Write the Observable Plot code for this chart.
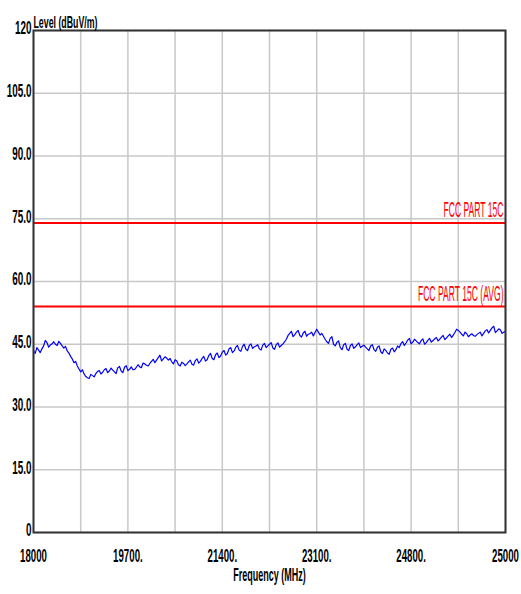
<!DOCTYPE html>
<html><head><meta charset="utf-8">
<script src="https://cdn.jsdelivr.net/npm/d3@7"></script>
<script src="https://cdn.jsdelivr.net/npm/@observablehq/plot@0.6"></script>
<style>
html,body{margin:0;padding:0;background:#fff;}
</style></head><body><div id="chart"></div>
<script>
// Sweep: 18000 MHz to 25000 MHz, one reading every 25 MHz
const sweepStart = 18000;
const sweepStep = 25;
const levels = [
  43.5, 42.8, 44.2, 43.6, 43.0, 43.9, 44.6, 45.9, 45.4, 44.3, 44.8, 45.1, 45.6, 45.0, 44.7, 45.7, 45.2, 44.6, 44.1, 44.5,
  43.4, 42.9, 42.1, 41.5, 40.6, 40.9, 39.8, 39.1, 38.4, 38.9, 37.9, 37.3, 37.0, 36.8, 37.8, 37.5, 37.2, 38.0, 38.5, 38.7,
  37.9, 38.3, 38.9, 39.2, 38.2, 38.6, 39.3, 38.8, 38.4, 38.0, 39.4, 39.7, 38.6, 38.2, 39.5, 39.9, 38.7, 39.0, 39.6, 38.9,
  39.0, 39.5, 40.1, 39.6, 39.4, 40.5, 40.3, 40.0, 39.8, 40.4, 40.9, 41.4, 40.6, 41.2, 41.8, 42.4, 41.0, 41.5, 42.0, 41.7,
  41.2, 41.6, 40.8, 40.3, 41.3, 41.0, 40.1, 39.8, 40.7, 40.4, 39.9, 40.3, 40.8, 41.2, 40.2, 40.0, 41.1, 41.5, 40.5, 40.9,
  41.6, 42.1, 41.0, 41.3, 42.3, 42.8, 41.6, 41.3, 42.5, 42.9, 41.8, 42.2, 43.1, 43.5, 42.4, 42.8, 43.9, 44.2, 43.0, 43.4,
  44.3, 44.7, 43.6, 43.3, 44.5, 45.0, 43.8, 43.5, 44.7, 45.1, 44.0, 44.4, 44.6, 44.9, 43.9, 43.6, 44.8, 45.2, 44.2, 44.6,
  45.0, 45.4, 44.1, 43.8, 44.9, 45.3, 44.3, 44.7, 45.1, 45.6, 46.2, 47.1, 47.6, 48.1, 46.8, 47.3, 47.9, 48.3, 47.1, 46.7,
  47.7, 48.1, 46.9, 47.4, 47.5, 47.9, 47.0, 47.8, 48.6, 47.9, 47.2, 47.6, 46.9, 46.2, 45.6, 45.2, 46.4, 46.8, 45.0, 44.6,
  45.5, 45.8, 44.2, 43.7, 44.9, 45.2, 43.8, 43.5, 44.7, 45.1, 44.0, 44.4, 44.9, 45.3, 44.2, 44.5, 44.8, 44.3, 43.9, 43.5,
  44.6, 44.9, 43.7, 43.3, 44.3, 44.6, 43.2, 42.8, 43.9, 43.5, 42.9, 42.6, 43.8, 44.1, 43.2, 43.7, 44.6, 44.2, 45.2, 45.6,
  44.7, 45.3, 46.0, 46.4, 45.1, 45.5, 46.2, 45.8, 45.4, 45.1, 45.9, 46.3, 45.0, 45.4, 46.0, 46.4, 45.5, 45.9, 46.3, 46.6,
  45.8, 46.2, 46.7, 47.1, 46.1, 46.5, 47.0, 47.4, 46.6, 47.2, 47.8, 48.6, 48.3, 47.9, 47.4, 47.0, 47.9, 47.5, 46.8, 47.2,
  47.5, 47.1, 46.9, 47.3, 47.6, 47.9, 47.0, 47.6, 48.2, 48.5, 47.7, 48.3, 48.9, 49.3, 47.8, 48.2, 48.7, 48.4, 47.6, 47.9,
  48.1
];

const yTicks = [0, 15, 30, 45, 60, 75, 90, 105, 120];
const yTickLabels = ["0", "15.0", "30.0", "45.0", "60.0", "75.0", "90.0", "105.0", "120"];
const xGrid = [18000, 18700, 19400, 20100, 20800, 21500, 22200, 22900, 23600, 24300, 25000];
const xLabelTicks = [18000, 19400, 20800, 22200, 23600, 25000];
const xTickLabels = ["18000", "19700.", "21400.", "23100.", "24800.", "25000"];
const limitNames = ["FCC PART 15C", "FCC PART 15C (AVG)"];
const limitValues = [74, 54];
const yTitle = "Level (dBuV/m)";
const xTitle = "Frequency (MHz)";

const data = levels.map((v, i) => ({f: sweepStart + i * sweepStep, v}));
const limits = limitNames.map((n, i) => ({name: n, v: limitValues[i]}));
const font = "'Liberation Sans',Arial,sans-serif";

const chart = Plot.plot({
  width: 521, height: 594,
  marginLeft: 33, marginRight: 16, marginTop: 30, marginBottom: 62,
  style: {fontFamily: font, fontSize: "11px", fontWeight: "bold", color: "#000", background: "#fff"},
  x: {domain: [18000, 25000], axis: null},
  y: {domain: [0, 120], axis: null},
  marks: [
    Plot.gridX(xGrid, {stroke: "#c8c8c8", strokeOpacity: 1, strokeWidth: 1.5}),
    Plot.gridY(yTicks, {stroke: "#c8c8c8", strokeOpacity: 1, strokeWidth: 1.5}),
    Plot.ruleY(limits, {y: "v", stroke: "#ff0000", strokeWidth: 2}),
    Plot.text(limits, {x: 25000, y: "v", text: "name", textAnchor: "end", lineAnchor: "bottom", dx: -2, dy: -6, fill: "#ff0000", fontWeight: "normal"}),
    Plot.line(data, {x: "f", y: "v", stroke: "#0000ff", strokeWidth: 1.2}),
    Plot.frame({stroke: "#333", strokeWidth: 2}),
    Plot.axisY(yTicks, {tickSize: 0, tickPadding: 2, dy: -2, tickFormat: d => yTickLabels[yTicks.indexOf(d)], label: null}),
    Plot.axisX(xLabelTicks, {tickSize: 0, tickPadding: 17, tickFormat: d => xTickLabels[xLabelTicks.indexOf(d)], label: null}),
    Plot.text([yTitle], {frameAnchor: "top-left", textAnchor: "start", lineAnchor: "bottom", dy: -3, text: d => d}),
    Plot.text([xTitle], {frameAnchor: "bottom", textAnchor: "middle", lineAnchor: "middle", dy: 43, text: d => d})
  ]
});

// The reference uses a tall, condensed face: stretch the text vertically and narrow it.
function stretchEl(t, sx, sy) {
  let tr = t.getAttribute("transform");
  if (tr == null) {
    const x = +(t.getAttribute("x") || 0);
    t.removeAttribute("x");
    tr = `translate(${x},0)`;
  }
  t.setAttribute("transform", tr + ` scale(${sx},${sy})`);
}
function stretchAxis(label, sx, sy) {
  chart.querySelectorAll(`g[aria-label="${label}"] text`).forEach(t => stretchEl(t, sx, sy));
}
function stretchText(strings, sx, sy) {
  chart.querySelectorAll("text").forEach(t => {
    if (strings.includes(t.textContent)) stretchEl(t, sx, sy);
  });
}
stretchAxis("y-axis tick label", 0.9, 1.7);
stretchAxis("x-axis tick label", 0.88, 1.65);
stretchText(limitNames, 0.78, 2.0);
stretchText([yTitle], 0.8, 1.45);
stretchText([xTitle], 0.82, 1.65);
document.getElementById("chart").appendChild(chart);
</script>
</body></html>
